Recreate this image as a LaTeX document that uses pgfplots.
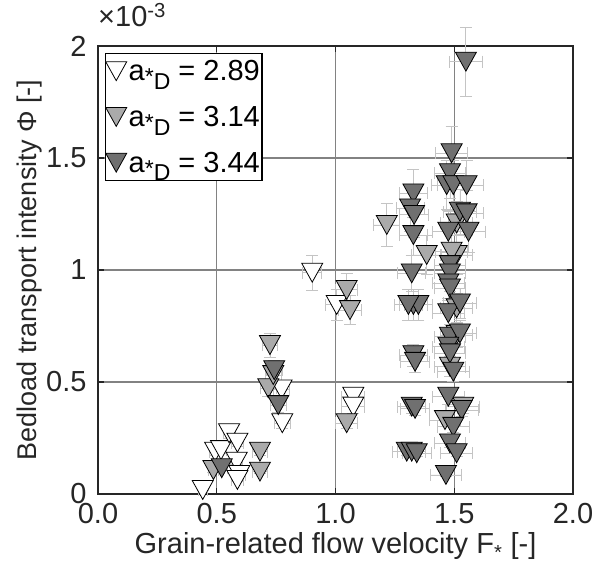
\documentclass[border=0pt]{standalone}
\usepackage{fontspec}
\setmainfont{Liberation Sans}
\usepackage{pgfplots}
\pgfplotsset{compat=1.18}
\definecolor{lg}{RGB}{170,170,170}
\definecolor{dg}{RGB}{112,112,112}
\definecolor{eb}{RGB}{196,196,196}
\definecolor{gridc}{RGB}{130,130,130}
\definecolor{axc}{RGB}{38,38,38}
\pgfdeclareplotmark{dtri}{%
  \pgfpathmoveto{\pgfqpoint{-\pgfplotmarksize}{0.9\pgfplotmarksize}}%
  \pgfpathlineto{\pgfqpoint{\pgfplotmarksize}{0.9\pgfplotmarksize}}%
  \pgfpathlineto{\pgfqpoint{0pt}{-0.9\pgfplotmarksize}}%
  \pgfpathclose
  \pgfusepathqfillstroke}
\newcommand{\bigf}{\fontsize{29}{33}\selectfont}
\newcommand{\aD}{a\raisebox{-0.3em}{\fontsize{23}{23}\selectfont\raisebox{0.2em}{*}D}}
\pgfplotstableread{
x y
0.441 0.018
0.493 0.189
0.518 0.196
0.552 0.271
0.587 0.229
0.584 0.144
0.595 0.085
0.587 0.063
0.773 0.467
0.776 0.316
0.902 0.988
1.005 0.844
1.075 0.434
1.075 0.390
}\sone
\pgfplotstableread{
x y
0.486 0.107
0.682 0.189
0.682 0.100
0.724 0.665
0.717 0.472
0.738 0.531
1.047 0.911
1.061 0.821
1.047 0.316
1.216 1.201
1.384 1.067
1.510 1.067
1.489 1.082
1.510 1.208
1.510 0.829
1.461 0.330
1.510 0.710
1.538 0.390
1.482 0.568
}\stwo
\pgfplotstableread{
x y
0.521 0.115
0.742 0.553
0.759 0.397
1.549 1.930
1.489 1.521
1.482 1.432
1.468 1.379
1.496 1.379
1.552 1.379
1.524 1.260
1.552 1.253
1.560 1.171
1.475 1.171
1.328 1.342
1.314 1.275
1.331 1.246
1.328 1.156
1.321 0.985
1.482 1.022
1.482 0.985
1.328 0.844
1.349 0.844
1.307 0.844
1.328 0.620
1.335 0.590
1.475 0.940
1.482 0.918
1.475 0.807
1.524 0.851
1.482 0.702
1.524 0.717
1.475 0.658
1.482 0.628
1.496 0.546
1.321 0.390
1.335 0.380
1.300 0.189
1.321 0.189
1.342 0.182
1.475 0.434
1.531 0.375
1.496 0.300
1.482 0.226
1.510 0.182
1.465 0.085
}\sthree
\begin{document}
\begin{tikzpicture}
\begin{axis}[
  scale only axis, width=475pt, height=448pt,
  xmin=0, xmax=2, ymin=0, ymax=2,
  xtick={0,0.5,1,1.5,2}, xticklabels={0.0,0.5,1.0,1.5,2.0},
  ytick={0,0.5,1,1.5,2}, yticklabels={0,0.5,1,1.5,2},
  xticklabel shift=6pt, yticklabel shift=8pt,
  grid=major, major grid style={gridc, line width=1.2pt},
  axis line style={axc, line width=1.6pt},
  tick style={axc, line width=1.2pt}, tick align=inside, major tick length=6pt,
  ticklabel style={font=\bigf, text=axc},
  label style={font=\bigf, text=axc},
  xlabel={Grain-related flow velocity F\textsubscript{*} [-]},
  ylabel={Bedload transport intensity Φ [-]},
  ylabel style={font=\fontsize{27}{30}\selectfont, yshift=-3pt},
  xlabel style={yshift=-2pt},
  clip=false,
  legend cell align=left,
  legend style={at={(rel axis cs:0.015,0.985)}, anchor=north west, draw=black, line width=1.2pt, fill=white, font=\bigf, inner xsep=0pt, inner ysep=5pt, row sep=20pt, /tikz/every even column/.append style={column sep=1pt}},
  legend image code/.code={\draw[#1, line width=0.8pt] plot coordinates {(0pt,0pt)};},
  ebars/.style={error bars/.cd, x dir=both, x fixed relative=0.045, y dir=both, y fixed relative=0.08,
    error bar style={eb, line width=0.9pt}, error mark options={eb, line width=0.9pt, mark size=6pt, rotate=90}},
]
\addplot[only marks, mark=dtri, mark size=10.5pt, draw=black, fill=white, line width=0.8pt, ebars] table {\sone};
\addlegendentry{\aD{} = 2.89}
\addplot[only marks, mark=dtri, mark size=10.5pt, draw=black, fill=lg, line width=0.8pt, ebars] table {\stwo};
\addlegendentry{\aD{} = 3.14}
\addplot[only marks, mark=dtri, mark size=10.5pt, draw=black, fill=dg, line width=0.8pt, ebars] table {\sthree};
\addlegendentry{\aD{} = 3.44}
\node[anchor=base west, font=\bigf, text=axc, inner sep=0pt] at ([yshift=19pt]rel axis cs:0,1) {×10\textsuperscript{-3}};
\path ([xshift=-98pt,yshift=-82pt]rel axis cs:0,0) ([xshift=29pt,yshift=46pt]rel axis cs:1,1);
\end{axis}
\end{tikzpicture}
\end{document}
